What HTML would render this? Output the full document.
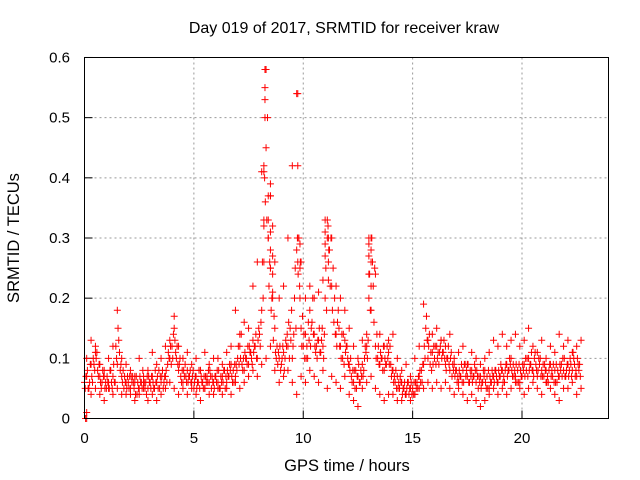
<!DOCTYPE html>
<html><head><meta charset="utf-8"><style>
body{margin:0;background:#fff}
svg{display:block;font-family:"Liberation Sans",sans-serif;font-size:15px}
</style></head><body>
<svg id="c" width="640" height="480">
<text x="344" y="33" text-anchor="middle" font-size="16">Day 019 of 2017, SRMTID for receiver kraw</text>
<text x="347" y="471" text-anchor="middle" font-size="16.5">GPS time / hours</text>
<text transform="translate(19,238) rotate(-90)" text-anchor="middle" font-size="16.5">SRMTID / TECUs</text>
<g id="grid"></g><g id="pts"></g>
<rect x="84.5" y="57.5" width="524" height="361" fill="none" stroke="#000"/>
</svg>
<script>
const xTicks=[0,5,10,15,20];
const yTicks=[0,0.1,0.2,0.3,0.4,0.5,0.6];
const yTickLabels=["0","0.1","0.2","0.3","0.4","0.5","0.6"];
const mainVals=[.06,.07,.05,.09,.1,.12,.08,.07,.06,.07,
.05,.06,.08,.07,.06,.09,.11,.07,.05,.06,
.06,.05,.07,.06,.04,.05,.06,.07,.06,.05,
.06,.07,.05,.06,.08,.06,.05,.07,.09,.1,
.12,.15,.1,.08,.07,.06,.09,.08,.07,.06,
.05,.07,.06,.08,.06,.05,.07,.06,.05,.06,
.07,.06,.05,.07,.08,.06,.07,.09,.08,.07,
.1,.12,.09,.08,.1,.09,.11,.13,.12,.1,
.14,.18,.32,.45,.3,.25,.2,.15,.12,.1,
.09,.11,.13,.12,.15,.1,.2,.28,.3,.15,
.12,.14,.1,.18,.16,.14,.12,.13,.11,.12,
.2,.3,.28,.22,.16,.14,.18,.12,.1,.13,
.12,.09,.07,.06,.08,.07,.06,.09,.1,.12,
.2,.28,.22,.12,.1,.09,.1,.08,.09,.11,
.09,.08,.06,.07,.05,.06,.05,.04,.06,.05,
.05,.04,.06,.07,.08,.09,.15,.1,.09,.11,
.1,.12,.09,.13,.11,.09,.1,.08,.07,.09,
.08,.06,.07,.08,.09,.07,.06,.08,.07,.06,
.05,.07,.06,.08,.07,.05,.06,.07,.08,.06,
.07,.08,.06,.09,.08,.1,.09,.07,.08,.06,
.07,.09,.08,.1,.09,.08,.11,.07,.09,.08,
.07,.08,.06,.09,.07,.08,.06,.07,.09,.08,
.07,.09,.1,.08,.09,.07,.08];
const mid1Vals=[.05,.08,.06,.07,.09,.1,.07,.06,.08,.05,
.07,.05,.06,.09,.12,.15,.08,.06,.07,.05,
.05,.07,.06,.04,.06,.07,.05,.06,.04,.07,
.05,.06,.08,.07,.05,.07,.06,.08,.11,.12,
.1,.13,.12,.09,.06,.08,.07,.06,.08,.07,
.06,.05,.08,.07,.05,.07,.06,.08,.07,.05,
.06,.08,.07,.06,.05,.08,.09,.07,.06,.09,
.12,.1,.08,.11,.09,.12,.1,.11,.14,.13,
.12,.26,.4,.33,.22,.18,.13,.11,.09,.12,
.1,.08,.12,.16,.13,.12,.25,.3,.22,.12,
.14,.1,.16,.12,.2,.12,.1,.15,.13,.1,
.25,.32,.22,.18,.2,.12,.15,.1,.14,.11,
.1,.08,.06,.08,.05,.09,.08,.07,.12,.1,
.24,.3,.16,.1,.12,.11,.08,.1,.12,.09,
.07,.06,.08,.05,.07,.04,.06,.05,.04,.06,
.04,.06,.05,.08,.06,.12,.17,.12,.11,.09,
.12,.1,.11,.1,.13,.08,.12,.1,.09,.07,
.06,.08,.09,.06,.07,.09,.08,.06,.09,.08,
.07,.05,.08,.06,.05,.07,.08,.06,.07,.08,
.09,.06,.08,.07,.1,.08,.07,.09,.06,.08,
.09,.07,.1,.08,.11,.07,.09,.08,.1,.07,
.09,.06,.08,.07,.09,.06,.08,.09,.07,.1,
.08,.07,.09,.11,.07,.1,.09];
const mid2Vals=[.07,.05,.09,.06,.08,.11,.09,.05,.07,.06,
.06,.08,.05,.06,.1,.13,.09,.08,.06,.07,
.07,.06,.05,.07,.05,.06,.08,.05,.07,.06,
.07,.05,.06,.05,.07,.08,.07,.06,.1,.09,
.14,.11,.09,.1,.08,.07,.06,.07,.06,.08,
.07,.06,.05,.06,.07,.06,.08,.07,.06,.07,
.08,.05,.06,.08,.07,.07,.08,.06,.09,.08,
.09,.14,.1,.1,.12,.11,.09,.12,.1,.15,
.16,.2,.36,.5,.26,.2,.17,.1,.11,.08,
.12,.1,.14,.1,.18,.14,.15,.24,.26,.17,
.1,.12,.13,.15,.14,.11,.13,.11,.15,.14,
.18,.28,.3,.25,.14,.16,.12,.14,.09,.12,
.09,.1,.08,.05,.07,.06,.07,.08,.11,.13,
.18,.26,.25,.14,.09,.1,.12,.09,.1,.12,
.08,.07,.05,.06,.06,.05,.04,.06,.05,.04,
.06,.05,.07,.06,.09,.1,.13,.14,.08,.12,
.09,.11,.12,.11,.1,.1,.09,.11,.08,.08,
.07,.07,.06,.09,.08,.06,.07,.07,.08,.07,
.06,.06,.07,.05,.08,.06,.07,.08,.06,.07,
.08,.07,.09,.08,.09,.07,.08,.06,.09,.07,
.08,.1,.07,.09,.08,.1,.08,.1,.07,.09,
.08,.07,.09,.08,.06,.09,.07,.08,.1,.07,
.09,.08,.07,.1,.08,.09,.07];
const hiVals=[.1,.13,.11,.09,.08,.1,.12,.18,.1,.09,
.08,.07,.1,.06,.08,.11,.09,.1,.12,.13,
.17,.12,.1,.11,.09,.1,.08,.11,.09,.1,
.1,.09,.11,.12,.18,.14,.16,.15,.22,.26,
.41,.58,.37,.26,.2,.22,.3,.42,.54,.26,
.2,.22,.2,.21,.23,.33,.3,.22,.2,.18,
.15,.12,.1,.13,.14,.3,.24,.14,.12,.13,
.14,.1,.08,.09,.07,.1,.12,.19,.13,.14,
.15,.13,.12,.14,.1,.11,.12,.09,.11,.1,
.09,.1,.11,.13,.12,.14,.12,.13,.14,.12,
.13,.15,.12,.11,.13,.1,.12,.11,.14,.12,
.13,.11,.12,.13];
const loVals=[0,.04,.05,.04,.03,.05,.04,.05,.04,.04,
.04,.03,.04,.05,.03,.04,.03,.04,.05,.06,
.05,.04,.05,.04,.05,.04,.03,.05,.04,.04,
.05,.04,.05,.04,.06,.05,.06,.07,.08,.07,
.09,.1,.12,.08,.06,.07,.08,.06,.04,.07,
.06,.08,.07,.06,.08,.05,.07,.06,.05,.07,
.04,.03,.02,.05,.06,.07,.05,.04,.03,.04,
.04,.03,.03,.04,.03,.04,.05,.05,.06,.05,
.06,.05,.06,.05,.04,.05,.04,.03,.04,.03,
.02,.03,.04,.05,.04,.05,.04,.05,.06,.05,
.04,.05,.06,.05,.04,.06,.05,.04,.03,.05,
.05,.06,.04,.05];
const spikeTimes=[8.2,8.2,8.2,8.2,8.25,8.25,8.25,8.25,8.4,8.4,8.4,8.5,8.5,8.5,8.5,8.5,8.6,8.6,8.6,8.6,9.75,9.75,9.75,9.75,9.85,9.85,9.85,11.0,11.0,11.0,11.0,11.15,11.15,11.15,13.0,13.0,13.0,13.0,13.1,13.1,13.1,0.05,0.1];
const spikeVals=[.41,.42,.33,.26,.58,.55,.53,.5,.37,.33,.3,.39,.37,.31,.28,.25,.32,.27,.24,.21,.54,.42,.3,.26,.29,.25,.2,.33,.31,.29,.27,.3,.26,.23,.3,.29,.27,.24,.26,.22,.18,0,.01];
const NS="http://www.w3.org/2000/svg";
const X=t=>84.5+t*21.875, Y=v=>418.5-v*601.7;
const grid=document.getElementById('grid'), pts=document.getElementById('pts');
function mk(tag,attrs,parent){const e=document.createElementNS(NS,tag);for(const k in attrs)e.setAttribute(k,attrs[k]);parent.appendChild(e);return e;}
yTicks.forEach((v,i)=>{
  const y=Y(v);
  if(v>0&&v<0.6){const g=mk('line',{x1:84.5,x2:608.5,y1:y,y2:y,stroke:'#999','stroke-dasharray':'2,3'},grid);
  
  }
  const t=mk('line',{x1:84.5,x2:92.5,y1:y,y2:y,stroke:'#000'},grid);
  
  
  const l=mk('text',{x:70,y:y+5,'text-anchor':'end'},grid);l.textContent=yTickLabels[i];
  
  
});
xTicks.forEach(v=>{
  const x=X(v);
  if(v>0){const g=mk('line',{x1:x,x2:x,y1:57.5,y2:418.5,stroke:'#999','stroke-dasharray':'2,3'},grid);
  
  }
  const t=mk('line',{x1:x,x2:x,y1:410.5,y2:418.5,stroke:'#000'},grid);
  
  
  const l=mk('text',{x:x,y:443,'text-anchor':'middle'},grid);l.textContent=String(v);
  
  
});
function plus(t,v){
  const x=X(t),y=Y(v);
  const p=mk('path',{d:`M${x-3.5},${y}h7M${x},${y-3.5}v7`,stroke:'#f00','stroke-width':1,fill:'none'},pts);
  
  
}
mainVals.forEach((v,i)=>plus(i*0.1,v));
mid1Vals.forEach((v,i)=>plus(i*0.1+0.033,v));
mid2Vals.forEach((v,i)=>plus(i*0.1+0.066,v));
hiVals.forEach((v,i)=>plus(0.1+i*0.2,v));
loVals.forEach((v,i)=>plus(0.1+i*0.2,v));
spikeTimes.forEach((t,i)=>plus(t,spikeVals[i]));
</script>
</body></html>
